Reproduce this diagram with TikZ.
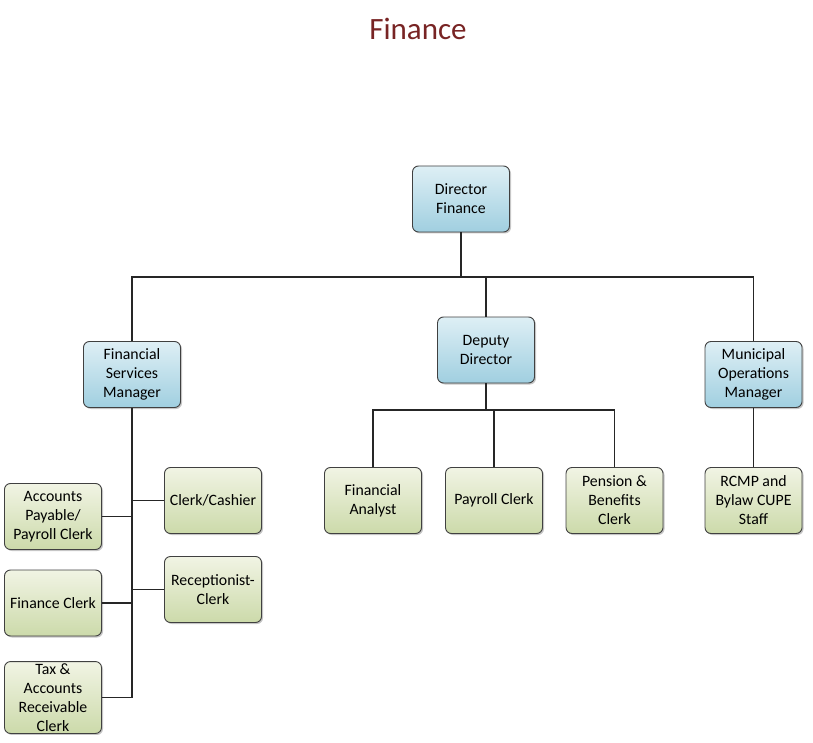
\documentclass[tikz,border=0pt]{standalone}
\usepackage{fontspec}
\setmainfont{Carlito}
\usetikzlibrary{shadows}
\definecolor{titlered}{RGB}{120,36,36}
\definecolor{bluetop}{RGB}{222,239,245}
\definecolor{bluebot}{RGB}{160,207,224}
\definecolor{greentop}{RGB}{241,244,228}
\definecolor{greenbot}{RGB}{204,218,170}
\begin{document}
\begin{tikzpicture}[
        x=1pt, y=-1pt,
        every node/.style={align=center},
        box/.style={draw=black!75, rounded corners=6pt, line width=0.9pt,
        minimum width=97pt, minimum height=66pt, inner sep=2pt,
        font=\fontsize{15.8}{19}\selectfont,
        drop shadow={shadow xshift=1.5pt, shadow yshift=-1.5pt, opacity=0.45}},
        head/.style={box, top color=bluetop, bottom color=bluebot},
        staff/.style={box, top color=greentop, bottom color=greenbot},
        link/.style={draw=black!85, line width=1.1pt}
      ]
    \useasboundingbox (0,0) rectangle (813,743);
    \node[font=\fontsize{31}{33}\selectfont, text=titlered] (title) at (418,29) {Finance};
    % top level
    \node[head] (dir) at (461,199) {Director\\Finance};
    \node[head] (fsm) at (132,374.5) {Financial\\Services\\Manager};
    \node[head] (dep) at (486,350) {Deputy\\Director};
    \node[head] (mom) at (753.5,374.5) {Municipal\\Operations\\Manager};
    % deputy director staff
    \node[staff] (fa) at (373,500.5) {Financial\\Analyst};
    \node[staff] (pc) at (494,500.5) {Payroll Clerk};
    \node[staff] (pb) at (614.5,500.5) {Pension \&\\Benefits\\Clerk};
    % operations staff
    \node[staff] (rcmp) at (753.5,500.5) {RCMP and\\Bylaw CUPE\\Staff};
    % financial services staff
    \node[staff] (cc) at (213,500.5) {Clerk/Cashier};
    \node[staff] (rc) at (213,589.5) {Receptionist-\\Clerk};
    \node[staff] (ap) at (53,516.5) {Accounts\\Payable/\\Payroll Clerk};
    \node[staff] (fc) at (53,603) {Finance Clerk};
    \node[staff] (tax) at (53,697.5) {Tax \&\\Accounts\\Receivable\\Clerk};
    % connectors
    \coordinate (bus) at (461,277);
    \coordinate (dbus) at (486,410);
    \draw[link] (dir) -- (bus);
    \draw[link] (fsm.north) |- (bus) -| (mom.north);
    \draw[link] (bus) -| (dep.north);
    \draw[link] (dep.south) -- (dbus);
    \draw[link] (fa.north) |- (dbus) -| (pb.north);
    \draw[link] (dbus) -| (pc.north);
    \draw[link] (mom) -- (rcmp);
    \draw[link] (fsm.south) |- (tax.east);
    \draw[link] (cc.west) -- (cc.west -| fsm.south);
    \draw[link] (rc.west) -- (rc.west -| fsm.south);
    \draw[link] (ap.east) -- (ap.east -| fsm.south);
    \draw[link] (fc.east) -- (fc.east -| fsm.south);
      \end{tikzpicture}
\end{document}
